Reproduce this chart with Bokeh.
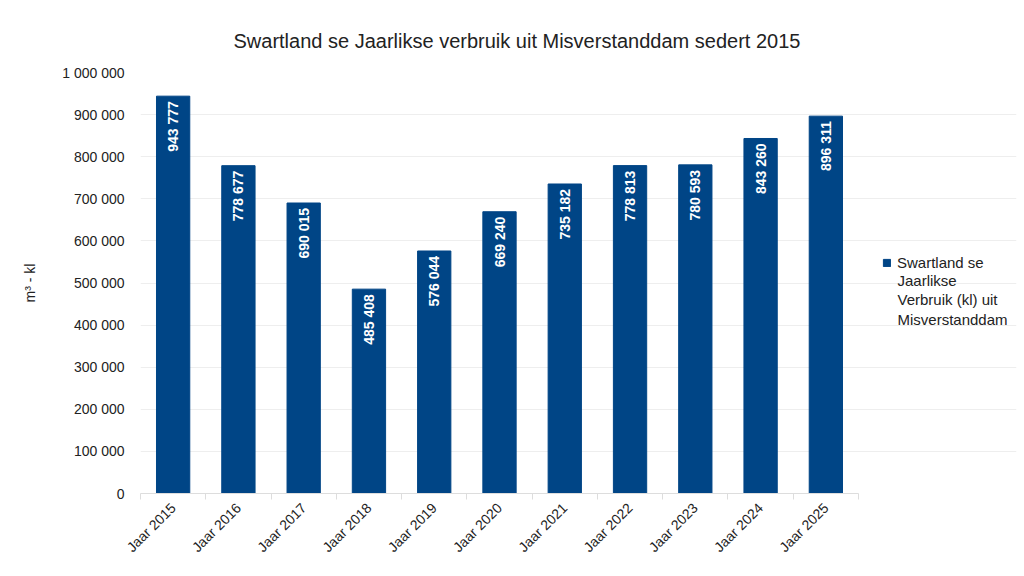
import math
from bokeh.plotting import figure
from bokeh.models import (ColumnDataSource, Legend, LegendItem, CustomJSTickFormatter, Title,
                          FixedTicker, Label, Grid)
from bokeh.core.properties import value
from bokeh.embed import file_html
from bokeh.resources import INLINE

years = ["Jaar 2015", "Jaar 2016", "Jaar 2017", "Jaar 2018", "Jaar 2019", "Jaar 2020",
         "Jaar 2021", "Jaar 2022", "Jaar 2023", "Jaar 2024", "Jaar 2025"]
usage = [943777, 778677, 690015, 485408, 576044, 669240, 735182, 778813, 780593, 843260, 896311]
labels = ["{:,}".format(v).replace(",", " ") for v in usage]
series_name = "Swartland se Jaarlikse Verbruik (kl) uit Misverstanddam"

FONT = "Liberation Sans"
BLUE = "#004586"
TEXT = "#222222"

pos = list(range(len(years)))
src = ColumnDataSource(data=dict(x=pos, usage=usage, label=labels))

# frame covers the plot area plus the legend column on the right
bars_px = 718
frame_w = 876
x_end = -0.5 + frame_w / (bars_px / len(years))

p = figure(x_range=(-0.5, x_end), y_range=(0, 1000000), frame_width=frame_w, frame_height=421,
           output_backend="svg", toolbar_location=None,
           min_border_left=140, min_border_right=8, min_border_top=72, min_border_bottom=83)
p.title = None
p.add_layout(Title(text="Swartland se Jaarlikse verbruik uit Misverstanddam sedert 2015",
                   align="left", offset=93, text_font=FONT, text_font_size="20px",
                   text_font_style="normal", text_color=TEXT, standoff=42), "above")

bars = p.vbar(x="x", top="usage", width=0.51, source=src, color=BLUE)

p.text(x="x", y="usage", text="label", source=src, angle=math.pi / 2,
       text_align="right", text_baseline="middle", y_offset=5,
       text_color="white", text_font=value(FONT), text_font_size="14px",
       text_font_style="bold")

p.outline_line_color = None
p.yaxis.ticker = list(range(0, 1000001, 100000))
p.yaxis.formatter = CustomJSTickFormatter(code="return tick.toLocaleString('en-US').replace(/,/g, ' ');")
p.yaxis.axis_label = "m³ - kl"
p.yaxis.axis_label_text_font = FONT
p.yaxis.axis_label_text_font_size = "14px"
p.yaxis.axis_label_text_font_style = "normal"
p.yaxis.axis_label_text_color = TEXT
p.yaxis.axis_label_standoff = 21
p.yaxis.axis_line_color = None
p.yaxis.major_tick_line_color = None
p.yaxis.minor_tick_line_color = None
p.yaxis.major_label_standoff = 10

for ax in (p.xaxis, p.yaxis):
    ax.major_label_text_font = FONT
    ax.major_label_text_font_size = "14px"
    ax.major_label_text_color = TEXT

xax = p.xaxis[0]
xax.ticker = FixedTicker(ticks=pos, minor_ticks=[i - 0.5 for i in range(len(years) + 1)])
xax.major_label_overrides = {i: y for i, y in enumerate(years)}
xax.bounds = (-0.5, len(years) - 0.5)
xax.axis_line_color = "#dddddd"
xax.major_tick_line_color = None
xax.minor_tick_line_color = "#dddddd"
xax.minor_tick_in = 0
xax.minor_tick_out = 6
xax.major_label_orientation = math.pi / 4
xax.major_label_standoff = 6

# grid lines only across the bars, not under the legend
p.center = [c for c in p.center if not isinstance(c, Grid)]
ygrid = Grid(dimension=1, ticker=p.yaxis[0].ticker, grid_line_color="#eeeeee",
             bounds=(-0.5, len(years) - 0.5))
p.add_layout(ygrid)

words = series_name.split(" ")
legend = Legend(items=[LegendItem(label=" ".join(words[:2]), renderers=[bars])],
                location=(742, 221), label_text_font=FONT, label_text_font_size="15px",
                label_text_color=TEXT, glyph_width=9, glyph_height=9, label_height=20,
                background_fill_alpha=0, border_line_color=None, label_standoff=6,
                padding=0, margin=0)
p.add_layout(legend, "center")
p.add_layout(Label(x=757, y=222, x_units="screen", y_units="screen",
                   text="\n".join([words[2], " ".join(words[3:6]), words[6]]),
                   text_font=FONT, text_font_size="15px", text_color=TEXT,
                   text_baseline="top", text_line_height=1.15))

open("out.html", "w").write(file_html(p, INLINE))
